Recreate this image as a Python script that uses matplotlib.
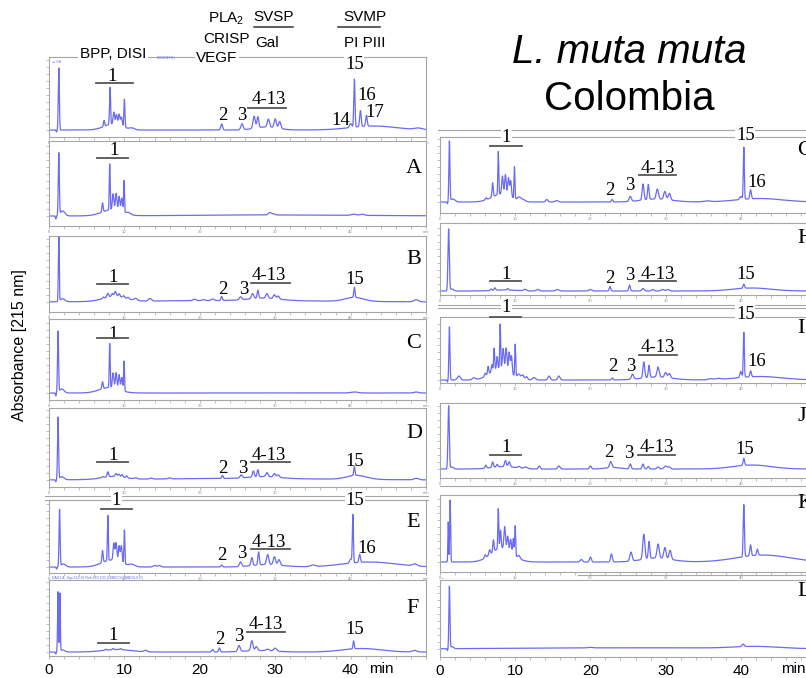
import numpy as np
import matplotlib
matplotlib.use('Agg')
import matplotlib.pyplot as plt
from matplotlib.lines import Line2D

plt.rcParams['font.family'] = ['Liberation Sans', 'DejaVu Sans']
plt.rcParams['mathtext.fontset'] = 'custom'
plt.rcParams['mathtext.rm'] = 'Liberation Sans'

# Peak tables: (retention time [min], height [a.u.], width [min])
peaks_top = [(1.0, -2, 0.05), (1.3, 62, 0.07), (8.5, 6, 1.2), (7.3, 6, 0.08), (8.1, 37, 0.07),
             (8.6, 12, 0.1), (8.95, 10, 0.1), (9.3, 11, 0.1), (9.6, 9, 0.1), (10.0, 28, 0.07),
             (11.0, 1.5, 0.3), (22.9, 6, 0.12), (25.6, 6, 0.15), (28.8, 3, 1.5), (27.2, 12, 0.15),
             (27.7, 11, 0.12), (29.1, 8, 0.15), (30.0, 9, 0.15), (30.6, 7, 0.15), (40.0, 4, 0.15),
             (40.5, 48, 0.08), (41.3, 16, 0.1), (42.1, 11, 0.1), (43.0, 4, 3.0), (49.0, 1.5, 0.5)]
peaks_A = [(0.9, -3, 0.05), (1.3, 62, 0.07), (1.8, 5, 0.3), (8.3, 6, 1.3), (7.1, 9, 0.08),
           (8.05, 46, 0.06), (8.5, 16, 0.1), (8.9, 17, 0.1), (9.3, 15, 0.1), (9.65, 14, 0.1),
           (9.95, 32, 0.06), (10.5, 2, 0.3), (29.3, 2.5, 0.2), (29.8, 1, 0.2), (40.4, 1.2, 0.3),
           (41.5, 1.2, 0.3), (30.0, 1, 12)]
peaks_B = [(1.3, 66, 0.06), (1.8, 3, 0.3), (8.7, 5, 1.5), (7.2, 1.5, 0.1), (7.8, 4, 0.12),
           (8.4, 3, 0.12), (8.8, 5, 0.12), (9.3, 3, 0.12), (9.9, 2, 0.12), (10.5, 1.5, 0.12),
           (11.5, 2, 0.2), (13.4, 2.5, 0.2), (19.3, 1.5, 0.2), (20.5, 1, 0.2), (21.7, 1.5, 0.2),
           (22.9, 4, 0.1), (25.4, 3, 0.15), (28.5, 2.5, 2.0), (27.0, 5, 0.15), (27.7, 8, 0.1),
           (28.9, 4.5, 0.15), (29.9, 4, 0.15), (30.4, 3, 0.15), (40.5, 10, 0.08), (40.5, 4, 1.2),
           (48.7, 2, 0.3), (25.0, 1.5, 12)]
peaks_C = [(0.9, -3, 0.05), (1.2, 61, 0.07), (1.7, 4, 0.3), (8.0, 5.5, 1.3), (7.1, 7, 0.08),
           (8.05, 44, 0.06), (8.5, 15, 0.1), (8.9, 16, 0.1), (9.3, 15, 0.1), (9.65, 13, 0.1),
           (9.95, 30, 0.06), (40.5, 1, 0.5), (48.7, 1, 0.3)]
peaks_D = [(0.9, -2, 0.05), (1.2, 62, 0.07), (1.7, 3, 0.3), (8.5, 3, 1.5), (7.1, 1, 0.1),
           (7.8, 5, 0.1), (8.9, 3, 0.12), (9.3, 2.5, 0.12), (9.7, 2.5, 0.1), (10.3, 2, 0.1),
           (11.5, 1, 0.2), (13.5, 1, 0.2), (16.0, 1, 0.2), (23.0, 3, 0.1), (25.5, 3, 0.15),
           (28.5, 2, 2.0), (27.1, 6, 0.12), (27.7, 7, 0.1), (28.9, 4, 0.15), (29.9, 3.5, 0.15),
           (30.4, 2.5, 0.15), (40.5, 9, 0.08), (40.8, 4, 1.3), (48.7, 1.5, 0.3), (25.0, 1.5, 12)]
peaks_E = [(1.0, -2, 0.05), (1.4, 57, 0.07), (1.9, 3, 0.3), (8.3, 7, 1.3), (7.1, 12, 0.08),
           (7.8, 45, 0.06), (8.6, 17, 0.1), (8.9, 18, 0.1), (9.3, 16, 0.1), (9.6, 17, 0.1),
           (10.0, 34, 0.06), (11.0, 2, 0.4), (14.0, 1.5, 0.2), (14.6, 1.5, 0.2), (22.9, 2, 0.1),
           (25.4, 4.5, 0.15), (29.0, 2.5, 2.0), (26.9, 8, 0.12), (27.8, 13, 0.1), (29.0, 10, 0.15),
           (29.9, 8, 0.15), (30.5, 5.5, 0.15), (35.0, 1.5, 0.3), (40.0, 4, 0.15), (40.3, 48, 0.07),
           (41.2, 8, 0.1), (42.5, 5, 3.5), (48.5, 2, 0.3)]
peaks_F = [(0.9, -2, 0.05), (1.2, 60, 0.06), (1.45, 58, 0.05), (1.8, 2, 0.3), (9.0, 2.5, 1.8),
           (7.5, 1, 0.1), (8.5, 1, 0.1), (9.5, 1, 0.1), (12.8, 1.5, 0.2), (21.7, 2.5, 0.12),
           (22.6, 4, 0.1), (25.2, 6, 0.15), (28.0, 1.5, 2.0), (26.9, 10, 0.15), (27.5, 4, 0.15),
           (29.0, 1.5, 0.2), (30.0, 3, 0.2), (40.4, 8, 0.08), (41.5, 3.5, 2.5), (48.5, 1.5, 0.3)]
peaks_G = [(1.0, -2, 0.05), (1.25, 60, 0.07), (1.7, 3, 0.3), (8.2, 8, 1.3), (6.1, 2, 0.1),
           (7.0, 14, 0.08), (7.75, 43, 0.06), (8.3, 18, 0.1), (8.7, 20, 0.1), (9.1, 18, 0.1),
           (9.4, 16, 0.1), (9.9, 32, 0.06), (10.5, 3, 0.2), (11.0, 2, 0.3), (14.2, 2.5, 0.15),
           (15.5, 1.5, 0.2), (22.9, 2.5, 0.1), (25.3, 5, 0.15), (28.8, 3, 2.0), (27.0, 16, 0.12),
           (27.7, 15, 0.1), (28.9, 10, 0.15), (29.9, 8, 0.15), (30.5, 6.5, 0.15), (35.5, 1, 0.4),
           (40.0, 3, 0.15), (40.4, 52, 0.07), (41.3, 9, 0.1), (42.5, 3.5, 3.0)]
peaks_H = [(1.15, 62, 0.09), (1.6, 2, 0.2), (8.5, 1, 1.5), (6.8, 1.5, 0.1), (7.3, 2.5, 0.1),
           (9.0, 1.5, 0.1), (11.3, 1.5, 0.2), (13.0, 1.5, 0.2), (15.6, 1.5, 0.2), (20.0, 1.5, 0.2),
           (22.6, 4.5, 0.1), (25.2, 6, 0.1), (27.0, 2.5, 0.15), (28.3, 1.5, 0.15), (29.6, 1.5, 0.2),
           (30.3, 1.5, 0.2), (40.4, 4, 0.1), (41.5, 3, 2.5)]
peaks_I = [(1.0, -2, 0.05), (1.25, 53, 0.07), (2.5, 4, 0.2), (4.5, 2, 0.2), (8.0, 12, 1.3),
           (6.0, 3, 0.1), (6.4, 8, 0.08), (6.9, 7, 0.08), (7.2, 22, 0.07), (7.6, 12, 0.08),
           (8.0, 44, 0.06), (8.4, 20, 0.1), (8.8, 22, 0.1), (9.2, 20, 0.1), (9.5, 18, 0.1),
           (10.0, 32, 0.06), (10.5, 4, 0.2), (11.0, 4, 0.15), (11.5, 3, 0.15), (12.5, 2.5, 0.2),
           (14.5, 4, 0.15), (15.8, 4, 0.15), (22.9, 2, 0.1), (25.6, 5, 0.15), (28.8, 3, 2.0),
           (27.1, 16, 0.12), (27.8, 12, 0.1), (29.0, 10, 0.15), (30.0, 5, 0.15), (30.5, 4.5, 0.15),
           (36.0, 1, 0.3), (37.0, 1, 0.3), (40.0, 6, 0.12), (40.4, 45, 0.07), (41.3, 6, 0.1),
           (42.5, 3.5, 3.0)]
peaks_J = [(1.15, 63, 0.09), (1.6, 2, 0.2), (8.5, 2.5, 1.6), (6.1, 3, 0.1), (7.0, 5.5, 0.1),
           (7.6, 2.5, 0.1), (8.7, 6, 0.12), (9.2, 5, 0.12), (10.5, 1.5, 0.15), (11.4, 1.5, 0.2),
           (13.2, 3, 0.12), (15.8, 3, 0.15), (20.0, 3, 0.12), (22.7, 6, 0.15), (23.0, 1.5, 1.0),
           (25.3, 5, 0.12), (27.0, 5, 0.12), (27.7, 2.5, 0.12), (29.0, 2, 0.15), (30.0, 3, 0.2),
           (30.5, 2, 0.15), (40.4, 7, 0.1), (41.5, 4, 2.5)]
peaks_K = [(1.1, 40, 0.05), (1.35, 62, 0.06), (8.2, 14, 1.4), (6.0, 3, 0.1), (6.6, 5, 0.1),
           (7.1, 12, 0.08), (7.75, 40, 0.06), (8.05, 18, 0.08), (8.6, 22, 0.1), (9.0, 14, 0.1),
           (9.4, 13, 0.1), (9.75, 16, 0.08), (10.0, 30, 0.06), (10.5, 3, 0.15), (18.8, 2.5, 0.15),
           (20.0, 5, 0.12), (22.8, 8, 0.12), (25.4, 9, 0.15), (28.8, 4, 2.0), (27.1, 25, 0.14),
           (27.8, 17, 0.1), (29.0, 14, 0.15), (29.9, 11, 0.15), (30.6, 9, 0.15), (40.4, 52, 0.08),
           (41.3, 11, 0.1), (42.2, 6, 0.1), (43.0, 7, 3.5)]
peaks_L = [(1.0, -2, 0.05), (1.25, 62, 0.07), (1.6, 2, 0.2), (25.0, 1.2, 15), (20.0, 0.5, 0.3),
           (40.3, 2.5, 0.15), (42.0, 2, 3.0)]

# peak-number labels: (text, retention time, vertical pixel)
labels_top = [("1", 8.4, 74), ("2", 23.0, 113), ("3", 25.6, 113), ("4-13", 29.2, 97),
              ("14", 38.7, 118), ("16", 42.1, 93), ("17", 43.2, 110)]
bars_top = [(6.2, 11.2, 82.7), (26.4, 31.4, 107.7)]
labels_A = [("1", 8.6, 148)]
bars_A = [(6.3, 10.5, 157.7)]
labels_B = [("1", 8.5, 275), ("2", 23.1, 287), ("3", 25.8, 287), ("4-13", 29.2, 273), ("15", 40.5, 277)]
bars_B = [(6.3, 10.5, 284.3), (26.8, 31.9, 282.7)]
labels_C = [("1", 8.5, 332)]
bars_C = [(6.3, 10.5, 337.7)]
labels_D = [("1", 8.5, 453), ("2", 23.0, 466), ("3", 25.7, 466), ("4-13", 29.2, 453), ("15", 40.6, 459)]
bars_D = [(6.3, 10.5, 462.3), (26.8, 31.9, 462.3)]
labels_E = [("2", 22.9, 553), ("3", 25.5, 551), ("4-13", 29.2, 540), ("16", 42.1, 546)]
bars_E = [(6.9, 11.0, 509), (26.8, 31.9, 549)]
labels_F = [("1", 8.5, 633), ("2", 22.6, 637), ("3", 25.1, 634), ("4-13", 28.7, 622), ("15", 40.5, 627)]
bars_F = [(6.5, 10.6, 642.7), (26.2, 31.3, 631.7)]
labels_G = [("2", 22.6, 188), ("3", 25.2, 183), ("4-13", 28.9, 166), ("16", 42.1, 180)]
bars_G = [(6.7, 10.9, 145.7), (26.4, 31.4, 175)]
labels_H = [("1", 8.8, 272), ("2", 22.6, 276), ("3", 25.2, 273), ("4-13", 28.9, 272), ("15", 40.6, 272)]
bars_H = [(6.7, 10.8, 281), (26.4, 31.4, 281)]
labels_I = [("2", 23.0, 364), ("3", 25.3, 364), ("4-13", 28.9, 345), ("16", 42.1, 359)]
bars_I = [(6.7, 10.8, 317.3), (26.5, 31.5, 355)]
labels_J = [("1", 8.8, 445), ("2", 22.5, 450), ("3", 25.1, 451), ("4-13", 28.8, 445), ("15", 40.5, 447)]
bars_J = [(6.7, 10.8, 455), (26.3, 31.3, 455)]
# labels sitting on the grey separator lines (white background)
boxed = [(0, "15", 40.5, 62), (0, "1", 8.9, 498), (0, "15", 40.6, 498),
         (1, "1", 8.8, 135), (1, "15", 40.6, 133), (1, "1", 8.8, 305), (1, "15", 40.6, 312)]

W, H = 806, 678
fig = plt.figure(figsize=(W / 100, H / 100), dpi=100)
cols = [(49, 426), (440, 816)]
BLUE = '#6a6af2'
GREY = '#a6a6a6'
SERIF = ['Liberation Serif', 'DejaVu Serif']

t = np.linspace(0, 50, 5001)


def trace(peaks):
    y = np.zeros_like(t)
    for rt, h, w in peaks:
        y += h * np.exp(-0.5 * ((t - rt) / w) ** 2)
    return y


def fx(col, tm):
    x0, x1 = cols[col]
    return x0 + tm * (x1 - x0) / 50


def ftext(x, y, s, size, **kw):
    # y is the visual centre of the glyphs in pixels from top
    fig.text(x / W, 1 - (y + 0.35 * size * 100 / 72) / H, s, fontsize=size,
             ha=kw.pop('ha', 'center'), va='baseline', **kw)


def hline(x0, x1, y, color=GREY, lw=0.8, z=2):
    fig.add_artist(Line2D([x0 / W, x1 / W], [1 - y / H] * 2, color=color, lw=lw, zorder=z))


# (peaks, column, top, bottom, baseline, letter, letter y, labels, bars)
panels = [
    (peaks_top, 0, 57, 137, 130, '', 0, labels_top, bars_top),
    (peaks_A, 0, 141, 226, 216, 'A', 165, labels_A, bars_A),
    (peaks_B, 0, 236, 312, 302, 'B', 256, labels_B, bars_B),
    (peaks_C, 0, 319, 400, 393, 'C', 340, labels_C, bars_C),
    (peaks_D, 0, 408, 487, 480, 'D', 430, labels_D, bars_D),
    (peaks_E, 0, 500, 573, 567, 'E', 519, labels_E, bars_E),
    (peaks_F, 0, 580, 656, 652, 'F', 605, labels_F, bars_F),
    (peaks_G, 1, 137, 213, 202, 'G', 147, labels_G, bars_G),
    (peaks_H, 1, 223, 295, 291, 'H', 235, labels_H, bars_H),
    (peaks_I, 1, 317, 383, 380, 'I', 325, labels_I, bars_I),
    (peaks_J, 1, 403, 478, 469, 'J', 413, labels_J, bars_J),
    (peaks_K, 1, 495, 572, 562, 'K', 500, [], []),
    (peaks_L, 1, 580, 657, 649, 'L', 588, [], []),
]

# grey separator lines from the pasted-together figure
for y in (496, 499.5):
    hline(45, 428, y)
for y in (130, 304.5, 308):
    hline(438, 806, y)
hline(440, 806, 486)
hline(578, 806, 574.5)

for peaks, col, top, bot, base, letter, ly, labs, bars in panels:
    x0, x1 = cols[col]
    ax = fig.add_axes([x0 / W, 1 - bot / H, (x1 - x0) / W, (bot - top) / H])
    ax.plot(t, trace(peaks), color=BLUE, lw=0.9)
    ax.set_xlim(0, 50)
    ax.set_ylim(-(bot - base), base - top)
    for s in ax.spines.values():
        s.set_color(GREY)
        s.set_linewidth(0.8)
    ax.set_xticks([0, 10, 20, 30, 40, 50])
    ax.set_xticks(np.arange(0, 50, 2), minor=True)
    ax.set_yticks(np.arange(0, base - top, 7))
    ax.set_yticklabels([])
    ax.tick_params(which='both', colors=GREY, length=2, width=0.5)
    if bot > 650:
        ax.set_xticklabels(['0', '10', '20', '30', '40', ''])
        ax.tick_params(axis='x', labelsize=11, labelcolor='black', pad=3)
    else:
        ax.set_xticklabels(['0', '10', '20', '30', '40', 'min'])
        ax.tick_params(axis='x', labelsize=3, labelcolor='#888888', pad=1)

    for s, tm, y in labs:
        ftext(fx(col, tm), y, s, 13.5, family=SERIF)
    for t0, t1, y in bars:
        hline(fx(col, t0), fx(col, t1), y, color='#555555', lw=1.3, z=5)
    if letter:
        ftext(x0 + 357, ly, letter, 16, family=SERIF, ha='left')

for col, s, tm, y in boxed:
    ftext(fx(col, tm), y, s, 13.5, family=SERIF,
          bbox=dict(facecolor='white', edgecolor='none', pad=0.5))

# toxin family header
hdr = 11
ftext(113, 53, 'BPP, DISI', hdr, bbox=dict(facecolor='white', edgecolor='none', pad=1))
ftext(217, 57, 'VEGF', hdr, bbox=dict(facecolor='white', edgecolor='none', pad=1))
ftext(227, 38, 'CRISP', hdr)
ftext(226, 17, 'PLA$_2$', hdr)
ftext(274, 16, 'SVSP', hdr)
ftext(267, 42, 'Gal', hdr)
ftext(365, 16, 'SVMP', hdr)
ftext(365, 42, 'PI PIII', hdr)
hline(254, 293, 26.7, color='#333333', lw=1.1)
hline(338, 380, 26.7, color='#333333', lw=1.1)

# small instrument legends left in the scans
fig.text(52 / W, 1 - 62 / H, '\u25ad SA', fontsize=2.5, color=BLUE, va='center')
fig.text(157 / W, 1 - 58 / H, 'SOVENT.D)', fontsize=2.5, color=BLUE, va='center')
fig.text(52 / W, 1 - 578 / H, 'DAD1 A, Sig=214,16 Ref=360,100 (LMMCOLOMBO\\LS.D)',
         fontsize=2.5, color=BLUE, va='center')
fig.text(441 / W, 1 - 578 / H, '\u2014 . . . . . . . . . . . . . . . . . . . . . . . . . . . . . . .',
         fontsize=2.5, color=BLUE, va='center')

# title
fig.text(629 / W, 1 - 63 / H, 'L. muta muta', fontsize=29, style='italic', ha='center', va='baseline')
fig.text(629 / W, 1 - 110 / H, 'Colombia', fontsize=29, ha='center', va='baseline')

fig.text(20 / W, 1 - 345 / H, 'Absorbance [215 nm]', fontsize=11.5, rotation=90,
         ha='center', va='center')
ftext(381, 668, 'min', 11)
ftext(793, 668, 'min', 11)

fig.savefig('out.png', dpi=100)
